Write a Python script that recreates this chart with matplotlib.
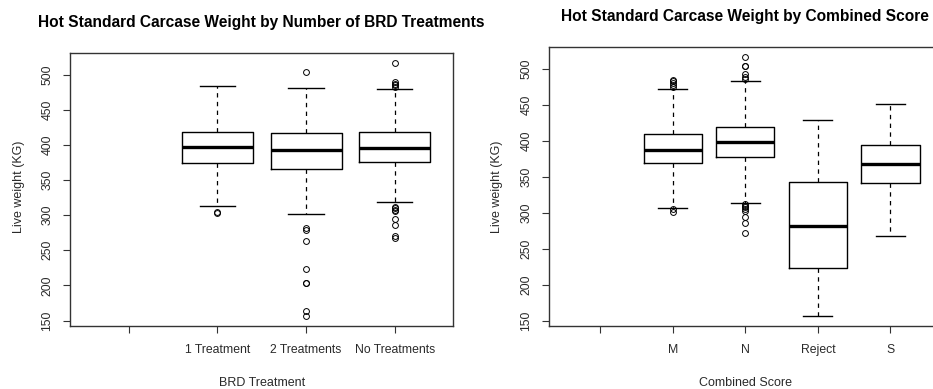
import matplotlib
matplotlib.use("Agg")
import matplotlib.pyplot as plt

plt.rcParams['font.family'] = ['Liberation Sans', 'DejaVu Sans']

# carcase weight summaries by number of BRD treatments
brd_labels = ['', '1 Treatment', '2 Treatments', 'No Treatments']
brd_whislo = [313, 302, 319]
brd_q1 = [374, 366, 375]
brd_med = [397, 393, 396]
brd_q3 = [418, 417, 418]
brd_whishi = [484, 481, 480]
brd_fliers = [
    [305, 303],
    [504, 282, 279, 263, 223, 204, 203, 164, 157],
    [516, 489, 487, 485, 483, 312, 310, 308, 306, 295, 286, 271, 268],
]

# carcase weight summaries by combined score
score_labels = ['', 'M', 'N', 'Reject', 'S']
score_whislo = [307, 314, 157, 268]
score_q1 = [369, 378, 223, 342]
score_med = [387, 399, 282, 368]
score_q3 = [410, 420, 343, 394]
score_whishi = [472, 484, 429, 451]
score_fliers = [
    [485, 483, 481, 478, 475, 305, 301],
    [517, 505, 504, 494, 489, 487, 312, 310, 308, 306, 303, 295, 286, 272],
    [],
    [],
]

yticks = [150, 200, 250, 300, 350, 400, 450, 500]
TXT = '#2a2a2a'


def rbox(ax, labels, whislo, q1, med, q3, whishi, fliers):
    stats = []
    for i in range(len(med)):
        stats.append(dict(med=med[i], q1=q1[i], q3=q3[i],
                          whislo=whislo[i], whishi=whishi[i], fliers=fliers[i]))
    n = len(labels)
    pos = list(range(2, n + 1))
    ax.bxp(stats, positions=pos, widths=0.8, showfliers=True,
           boxprops=dict(color='black', lw=1.0),
           medianprops=dict(color='black', lw=2.4, solid_capstyle='butt'),
           whiskerprops=dict(color='black', lw=0.9, linestyle=(0, (3.5, 3.5))),
           capprops=dict(color='black', lw=1.0),
           capwidths=0.4,
           flierprops=dict(marker='o', markersize=4.2, markerfacecolor='none',
                           markeredgecolor='black', markeredgewidth=0.7))

    # R-style 4% padding on both axes
    allv = whislo + whishi + [v for f in fliers for v in f]
    lo, hi = min(allv), max(allv)
    pad = (hi - lo) * 0.04
    ax.set_ylim(lo - pad, hi + pad)
    xpad = n * 0.04
    ax.set_xlim(0.5 - xpad, n + 0.5 + xpad)

    ax.set_xticks(range(1, n + 1))
    ax.set_xticklabels(labels)
    ax.set_yticks(yticks)
    ax.tick_params(axis='x', length=5, width=0.8, pad=8, labelsize=8.8,
                   colors='#333333', labelcolor=TXT)
    ax.tick_params(axis='y', length=5, width=0.8, pad=7, labelsize=8.8,
                   colors='#333333', labelcolor=TXT, labelrotation=90)
    for t in ax.get_yticklabels():
        t.set_va('center')
    for s in ax.spines.values():
        s.set_color('#333333')
        s.set_linewidth(1.0)
    ax.set_ylabel('Live weight (KG)', fontsize=9, color=TXT, va='center')


fig = plt.figure(figsize=(9.33, 3.89), dpi=100)

ax1 = fig.add_axes([0.0753, 0.1627, 0.4105, 0.7003])
rbox(ax1, brd_labels, brd_whislo, brd_q1, brd_med, brd_q3, brd_whishi, brd_fliers)
ax1.set_xlabel('BRD Treatment', fontsize=9, color=TXT, va='center')
ax1.xaxis.set_label_coords(0.5, -0.21)
ax1.yaxis.set_label_coords(-0.135, 0.51)

ax2 = fig.add_axes([0.5887, 0.1620, 0.4202, 0.7180])
rbox(ax2, score_labels, score_whislo, score_q1, score_med, score_q3, score_whishi, score_fliers)
ax2.set_xlabel('Combined Score', fontsize=9, color=TXT, va='center')
ax2.xaxis.set_label_coords(0.5, -0.203)
ax2.yaxis.set_label_coords(-0.133, 0.5)

fig.text(261.5 / 933, 1 - 22 / 389, 'Hot Standard Carcase Weight by Number of BRD Treatments',
         ha='center', va='center', fontsize=11.2, fontweight='bold', color='black')
fig.text(745.3 / 933, 1 - 16 / 389, 'Hot Standard Carcase Weight by Combined Score',
         ha='center', va='center', fontsize=11.2, fontweight='bold', color='black')

fig.savefig('out.png', dpi=100)
